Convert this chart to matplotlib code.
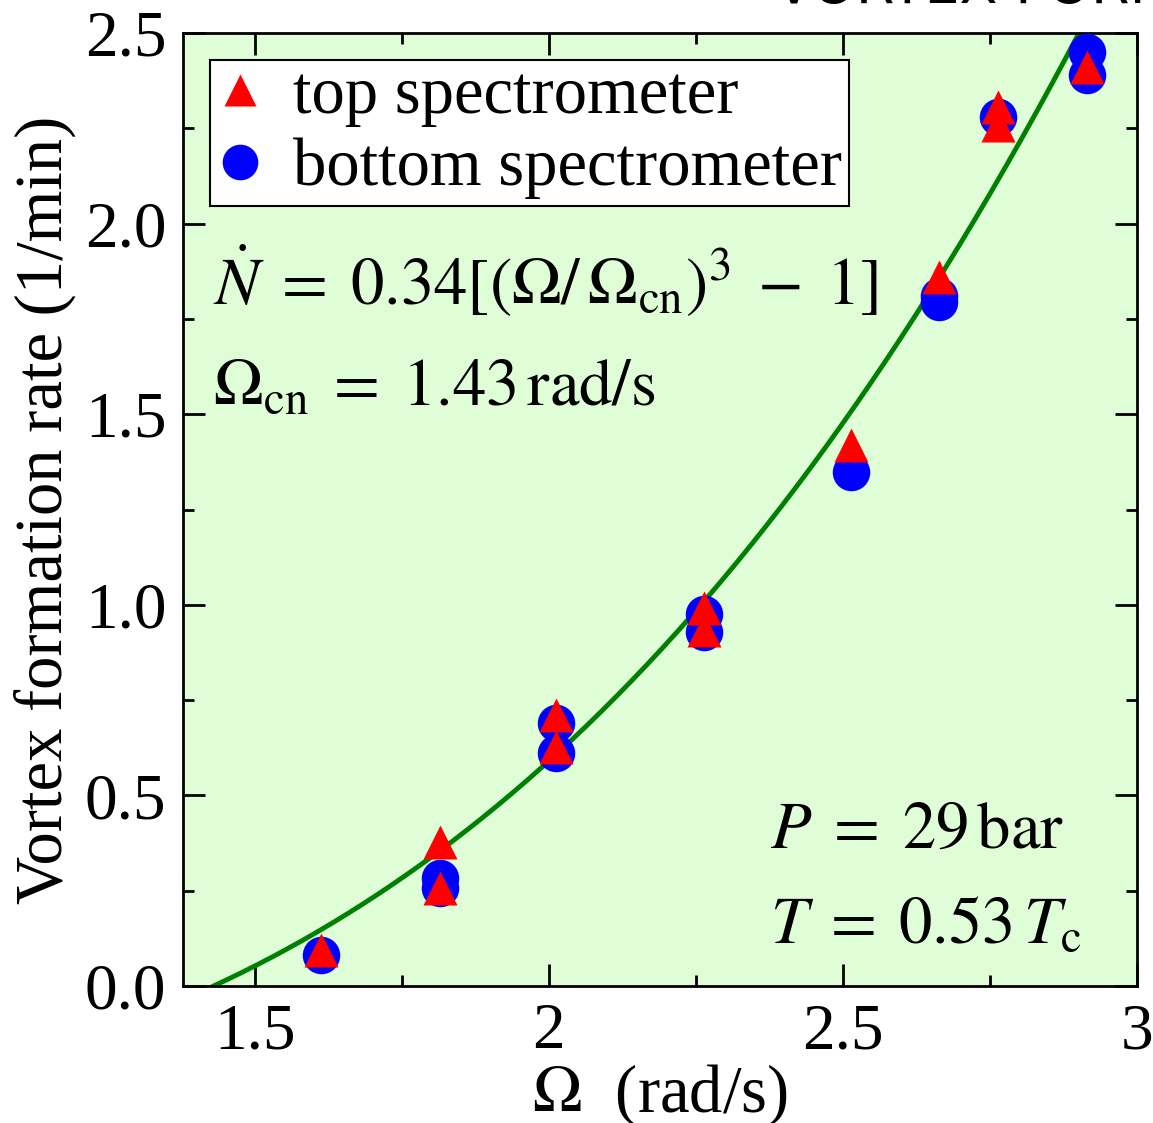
import numpy as np
import matplotlib.pyplot as plt
from matplotlib.ticker import MultipleLocator, FuncFormatter

plt.rcParams['font.family'] = 'Liberation Serif'
plt.rcParams['mathtext.fontset'] = 'stix'
plt.rcParams['font.size'] = 46

# measured points
omega_top = [1.612, 1.815, 1.815, 2.013, 2.013, 2.264, 2.264, 2.514, 2.663, 2.764, 2.764, 2.915]
rate_top = [0.094, 0.378, 0.257, 0.711, 0.627, 0.992, 0.934, 1.419, 1.86, 2.306, 2.259, 2.41]

omega_bot = [1.612, 1.815, 1.815, 2.013, 2.013, 2.264, 2.264, 2.514, 2.663, 2.663, 2.764, 2.915, 2.915]
rate_bot = [0.081, 0.283, 0.257, 0.690, 0.611, 0.976, 0.929, 1.348, 1.794, 1.81, 2.28, 2.45, 2.39]

# fit parameters
amp = 0.34
omega_cn = 1.43

fig = plt.figure(figsize=(11.53, 11.23), dpi=100)
ax = fig.add_axes([0.1587, 0.122, 0.8274, 0.8486])
ax.set_facecolor('#dffdd6')

om = np.linspace(omega_cn, 2.95, 300)
ax.plot(om, amp * ((om / omega_cn) ** 3 - 1), color='#008000', lw=3.5, zorder=2)

ax.plot(omega_bot, rate_bot, 'o', color='#0000ff', ms=27, mec='none', zorder=3,
        label='bottom spectrometer')
ax.plot(omega_top, rate_top, '^', color='#ff0000', ms=24, mec='none', zorder=4,
        label='top spectrometer')

ax.set_xlim(1.378, 3.0)
ax.set_ylim(0, 2.5)
ax.xaxis.set_major_locator(MultipleLocator(0.5))
ax.xaxis.set_minor_locator(MultipleLocator(0.25))
ax.yaxis.set_major_locator(MultipleLocator(0.5))
ax.yaxis.set_minor_locator(MultipleLocator(0.25))
ax.xaxis.set_major_formatter(FuncFormatter(lambda v, p: f'{v:g}'))
ax.yaxis.set_major_formatter(FuncFormatter(lambda v, p: f'{v:.1f}'))
ax.tick_params(which='both', direction='in', top=True, right=True, width=2)
ax.tick_params(which='major', length=16, labelsize=47, pad=12)
ax.tick_params(which='minor', length=8)
for s in ax.spines.values():
    s.set_linewidth(2)

ax.set_xlabel(r'$\Omega$  (rad/s)', fontsize=48, labelpad=0)
ax.set_ylabel('Vortex formation rate (1/min)', fontsize=48, labelpad=6)

h, l = ax.get_legend_handles_labels()
leg = ax.legend(h[::-1], l[::-1], loc='upper left', bbox_to_anchor=(0.028, 0.972),
                fontsize=48, fancybox=False, framealpha=1, edgecolor='black',
                handlelength=0.7, handletextpad=0.45, borderpad=0.1, labelspacing=0.15,
                borderaxespad=0, markerscale=0.95)
leg.get_frame().set_linewidth(1.5)

ax.text(0.031, 0.715, r'$\dot{N}\;=\;0.34[(\Omega/\,\Omega_{\rm cn})^3\;-\;1]$',
        transform=ax.transAxes, fontsize=48)
ax.text(0.031, 0.61, r'$\Omega_{\rm cn}\;=\;1.43\,\mathrm{rad/s}$',
        transform=ax.transAxes, fontsize=48)
ax.text(0.615, 0.145, r'$P\;=\;29\,\mathrm{bar}$', transform=ax.transAxes, fontsize=48)
ax.text(0.615, 0.045, r'$T\;=\;0.53\,T_{\rm c}$', transform=ax.transAxes, fontsize=48)

fig.text(0.672, 1 - 3 / 1123, 'VORTEX FORMATION', family='DejaVu Sans', fontsize=40,
         va='baseline')

fig.savefig('out.png', dpi=100)
